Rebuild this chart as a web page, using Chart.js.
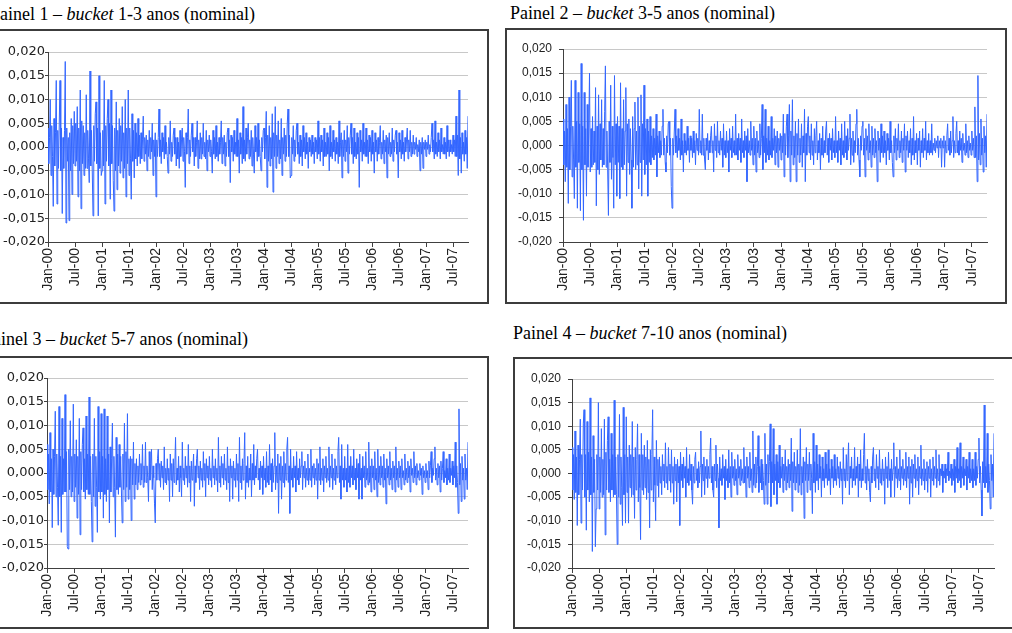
<!DOCTYPE html>
<html>
<head>
<meta charset="utf-8">
<script src="https://cdn.jsdelivr.net/npm/chart.js@4.4.1/dist/chart.umd.min.js"></script>
<style>
html, body { margin: 0; padding: 0; background: #fff; width: 1012px; height: 633px; overflow: hidden; position: relative; }
.box { position: absolute; border: 2px solid #3c3c3c; box-sizing: border-box; }
.tit { position: absolute; font: 18px/18px "Liberation Serif", "Times New Roman", serif; color: #000; white-space: nowrap; }
canvas { position: absolute; }
</style>
</head>
<body>
<div class="box" style="left:-4px;top:29px;width:493px;height:275px"></div>
<div class="box" style="left:505px;top:28px;width:502px;height:276px"></div>
<div class="box" style="left:-4px;top:356px;width:493px;height:273px"></div>
<div class="box" style="left:513px;top:357px;width:520px;height:272px"></div>

<div class="tit" style="left:-10px;top:5px">Painel 1 – <i>bucket</i> 1-3 anos (nominal)</div>
<div class="tit" style="left:510px;top:4px">Painel 2 – <i>bucket</i> 3-5 anos (nominal)</div>
<div class="tit" style="left:-17px;top:330px">Painel 3 – <i>bucket</i> 5-7 anos (nominal)</div>
<div class="tit" style="left:513px;top:324px">Painel 4 – <i>bucket</i> 7-10 anos (nominal)</div>

<script>
// rótulos do eixo x, um a cada semestre
var rotulos = ["Jan-00","Jul-00","Jan-01","Jul-01","Jan-02","Jul-02","Jan-03","Jul-03",
               "Jan-04","Jul-04","Jan-05","Jul-05","Jan-06","Jul-06","Jan-07","Jul-07"];
var pontosPorSemestre = 36; // 6 leituras por mês

// séries, em unidades de 10^-4 (uma linha = um semestre)
var painel1 = [
  40,-35,20,100,-60,45,-20,-125,60,-40,30,140,-120,35,-45,50,140,-50,40,-140,20,-45,35,180,-160,40,-30,20,-155,30,-50,60,-100,45,-35,75,
  -40,50,-30,85,-105,40,-50,120,-130,55,-35,45,-60,30,-45,110,-45,35,-25,-75,160,-40,35,-50,-145,45,-30,70,95,-35,40,-145,150,-45,30,-60,
  -50,35,-40,140,-120,45,-30,60,100,-40,50,-110,120,-35,45,-70,-135,40,-50,95,-90,35,-40,60,-55,45,-30,85,-65,30,-45,100,-105,40,-35,120,
  -60,40,-25,-110,70,-30,35,-65,50,-25,30,-40,60,-20,25,-35,30,-25,15,65,-30,20,-15,25,-50,15,-20,35,-25,20,-10,50,-60,15,-20,30,
  -105,15,-20,20,80,-20,15,-35,30,-10,20,-25,45,-15,10,-20,-55,20,-15,55,-30,10,-20,25,40,-15,20,-40,20,-25,10,-45,35,-20,15,40,
  -30,20,-10,-85,30,-15,20,80,-35,15,-20,25,50,-10,20,-40,20,-20,10,55,-45,15,-25,30,-25,20,-15,50,-20,10,-25,35,-50,15,-10,25,
  -20,15,-10,-55,35,-15,20,-25,45,-20,10,-30,20,-15,10,55,-35,20,-15,25,-40,10,-20,30,40,-20,15,-75,25,-10,20,-30,35,-15,10,-20,
  60,-20,15,-55,30,-15,20,-35,85,-25,15,-30,40,-15,20,50,-25,15,-20,35,-40,20,-15,-55,45,-10,20,-30,50,-20,15,-20,-50,20,-10,35,
  40,-25,20,75,-85,25,-30,45,-40,20,-25,70,-95,30,-20,85,-45,25,-20,55,-35,15,-25,60,-60,20,-15,40,-30,25,-20,50,80,-20,25,-65,
  -60,20,-15,45,-30,15,-20,35,50,-15,10,-35,25,-20,15,-40,45,-10,20,-25,30,-15,10,-45,20,-10,15,-20,25,-15,10,-35,20,-10,15,-25,
  55,-15,20,-30,25,-10,15,-40,40,-20,10,-20,30,-15,20,-50,45,-20,10,-25,35,-10,15,-30,20,-15,10,-35,55,-20,10,30,-65,15,-20,35,
  -30,15,-10,45,-55,20,-15,25,50,-15,20,-35,40,-20,10,-25,30,-15,20,-85,35,-10,15,-30,50,-15,10,-20,40,-20,15,-35,25,-10,20,-30,
  35,-15,10,-55,30,-10,15,-30,20,-15,10,45,-25,10,-15,35,-35,15,-10,25,-65,20,-15,30,-20,10,-15,40,-30,15,-10,25,35,-15,10,-65,
  30,-10,15,-25,35,-15,10,-30,20,-10,15,40,-25,15,-10,35,-20,10,-15,25,-15,10,-5,20,-20,5,-10,15,-50,10,-15,20,-45,10,-5,15,
  -20,10,-5,25,-15,5,-10,20,50,-10,15,-25,55,-15,10,-20,30,-10,15,-25,40,-10,5,-15,20,-15,10,-25,45,-10,15,-20,15,-10,5,-15,
  25,-10,15,-20,65,-20,25,-60,120,-25,20,-55,30,-15,10,-30,35,-15,20,-45,65
];
var painel2 = [
  55,-40,30,-75,85,-45,35,-120,100,-50,40,135,-65,40,-30,-110,135,-45,50,-130,110,-35,45,-135,170,-50,40,-155,110,-40,35,-105,85,-45,30,150,
  -55,35,-45,60,-40,30,-35,120,-125,40,-50,105,-60,45,-30,95,-45,35,-40,70,165,-45,30,-50,-145,50,-35,125,-70,40,-25,-130,145,-40,45,-105,
  60,-35,40,-110,130,-45,35,-50,95,-40,30,120,-105,45,-35,55,-60,35,-30,-130,60,-45,35,90,-50,30,-40,100,-90,40,-35,105,-105,45,-30,125,
  -60,35,-40,55,-105,30,-35,60,-40,20,-25,35,-30,15,-20,65,-65,20,-15,30,-25,10,-20,40,75,-20,15,-35,-55,20,-15,45,50,-20,15,-85,
  -130,15,-20,30,75,-15,20,-25,35,-10,15,-30,55,-20,10,-55,25,-15,10,-20,40,-10,15,-35,20,-10,15,-25,30,-15,10,-40,25,-10,15,-20,
  75,-15,10,-20,65,-20,15,-30,-50,15,-10,25,-30,10,-15,20,40,-15,10,-55,45,-10,20,-25,50,-15,10,-20,30,-10,15,-45,45,-20,10,-25,
  30,-15,10,-55,35,-10,15,-25,40,-15,10,-20,65,-20,15,-30,25,-10,15,-35,55,-15,10,-25,30,-10,20,-75,35,-15,10,-20,50,-10,15,-40,
  40,-20,15,-55,30,-15,10,-25,45,-20,15,85,-50,20,-15,75,-35,15,-20,40,-30,10,-20,60,-25,15,-10,35,-40,20,-15,30,-45,15,-10,25,
  -30,20,-15,65,-65,25,-20,40,65,-25,20,85,-75,30,-20,95,-40,20,-25,50,-75,25,-20,55,-35,15,-20,45,-45,20,-15,75,-75,25,-20,40,
  60,-15,20,-30,45,-20,10,-40,35,-15,20,50,-30,10,-15,25,-50,15,-20,40,-25,10,-15,30,50,-20,15,-35,25,-10,15,-30,35,-15,10,-25,
  60,-15,10,-35,30,-10,15,-40,45,-20,10,-25,50,-15,20,-30,35,-10,15,65,-40,15,-20,30,-35,10,-15,45,75,-20,15,-30,-65,20,-10,40,
  50,-20,15,-65,35,-10,20,-30,45,-15,10,-45,40,-20,15,-25,35,-15,10,-75,30,-10,15,-35,45,-15,20,-25,30,-15,10,-40,25,-10,15,-30,
  50,-15,10,-35,-65,20,-15,35,-30,15,-10,45,-25,10,-15,30,-35,15,-10,45,-55,20,-10,30,-25,10,-15,35,-40,15,-20,60,-30,10,-15,25,
  -40,15,-10,30,-45,10,-15,35,-25,15,-10,50,-30,10,-15,25,-20,10,-15,45,-20,5,-10,15,-15,10,-5,20,-25,10,-5,15,-45,10,-5,20,
  -45,10,-15,20,45,-10,15,-20,30,-15,10,60,-25,10,-15,25,50,-15,10,-20,30,-10,15,-35,25,-10,5,-20,45,-15,10,-25,20,-10,5,-20,
  30,-10,15,-25,80,-25,20,-75,145,-30,25,-40,55,-20,15,-55,40,-15,20,-45,65
];
var painel3 = [
  60,-35,40,-65,85,-40,30,-115,50,-45,35,130,-50,40,-30,-110,140,-50,35,-125,115,-45,30,-40,165,-40,45,-155,-160,50,-35,110,-50,35,-40,145,
  -60,40,-30,70,-95,35,-45,115,-130,45,-35,60,95,-40,30,-55,120,-35,40,-45,160,-45,35,-60,-145,40,-50,115,-70,35,-30,-125,140,-40,45,-55,
  125,-40,35,-95,135,-45,30,-60,120,-35,40,-105,55,-40,30,105,-50,35,-30,-135,75,-35,40,-45,60,-30,35,-40,-105,40,-35,105,-60,45,-30,125,
  -55,30,-35,35,-100,30,-25,65,-55,20,-25,30,-35,15,-20,40,-25,20,-15,60,-30,15,-20,65,-20,15,-10,-60,45,-15,20,50,-35,15,-10,-65,
  -105,20,-15,30,50,-15,20,-30,25,-10,15,-35,55,-20,10,-25,30,-15,10,-60,40,-15,20,-50,30,-20,15,75,-25,10,-15,35,-40,15,-10,-50,
  65,-15,10,-25,35,-10,15,-30,60,-20,15,-60,25,-15,10,40,-70,15,-20,30,50,-10,15,-35,25,-15,10,-30,45,-15,20,-50,30,-10,15,-25,
  35,-15,10,-30,50,-10,15,-25,30,-15,10,-40,75,-20,15,-30,35,-10,20,-25,40,-15,10,-35,55,-20,15,-60,30,-10,15,-55,25,-15,10,-30,
  40,-15,20,-60,75,-20,15,-35,30,-15,20,85,-55,15,-20,35,-30,10,-15,40,-50,20,-15,60,-25,15,-10,30,50,-15,10,-35,25,-10,15,-45,
  35,-15,10,-30,45,-20,15,-25,60,-15,20,-40,30,-20,15,85,-35,15,-20,40,-85,20,-15,35,-55,15,-20,45,-30,20,-15,50,75,-20,15,-85,
  50,-15,10,-30,35,-10,15,-40,45,-15,10,-25,30,-10,15,45,-35,15,-10,25,-30,10,-15,40,-25,10,-15,50,-30,15,-10,20,-25,10,-15,30,
  -55,20,-15,55,-25,10,-15,30,-40,15,-10,35,-20,10,-15,55,-30,15,-10,40,-35,10,-15,30,-25,15,-10,45,75,-20,15,-55,60,-15,10,-30,
  35,-15,10,-40,60,-20,15,-30,35,-10,15,-25,50,-15,10,-35,30,-10,20,-55,40,-15,10,-55,35,-10,15,-30,45,-15,10,-25,65,-20,15,-40,
  30,-10,15,-35,45,-15,10,-50,50,-20,15,-25,35,-10,15,-30,40,-15,10,-65,30,-10,15,-25,45,-15,10,-35,25,-10,15,-40,55,-15,10,-30,
  25,-10,15,-35,30,-10,5,-25,40,-15,10,-20,25,-10,15,-40,30,-5,10,-20,45,-10,15,-25,20,-10,5,-15,20,-5,10,-45,15,-10,5,-20,
  20,-10,5,-35,25,-10,15,45,-20,10,-5,30,55,-15,10,-25,20,-10,15,-40,25,-15,10,45,-20,5,-10,30,-25,10,-15,40,-20,10,-5,25,
  -25,15,-10,65,-30,15,-20,-85,135,-25,20,-60,35,-15,10,-55,40,-15,10,-35,65
];
var painel4 = [
  55,-35,40,-55,90,-40,35,-110,60,-45,30,115,-105,40,-35,105,135,-50,40,-120,110,-35,45,-60,160,-45,35,-165,80,-40,30,-155,-75,40,-35,150,
  -75,35,-40,95,-50,30,-45,115,-130,45,-35,70,120,-40,30,-60,85,-35,40,-50,155,-45,35,-45,-150,40,-50,125,-65,35,-30,-110,140,-45,40,-105,
  120,-40,35,-105,60,-30,40,-50,110,-45,35,-95,55,-35,30,105,-60,40,-30,-140,85,-35,40,-45,60,-30,35,-55,70,-40,30,-115,50,-35,40,135,
  -60,35,-25,-100,70,-25,30,-50,35,-20,15,-45,40,-15,20,-30,65,-20,15,-35,55,-15,20,-40,50,-20,15,-65,35,-15,20,-60,30,-20,15,-110,
  45,-15,20,-30,35,-10,15,-50,55,-20,10,-25,40,-15,20,-35,-65,15,-20,30,45,-15,10,-30,25,-20,15,90,-50,20,-15,35,-45,15,-10,30,
  -30,15,-10,40,75,-20,15,-35,-50,20,-15,60,-30,20,-10,-115,35,-15,10,-25,40,-10,15,-55,30,-15,10,-30,50,-20,15,-50,45,-10,15,-25,
  30,-15,10,-45,40,-10,15,-25,30,-15,10,-20,55,-20,15,-50,35,-10,15,-30,45,-15,10,-40,90,-25,20,-30,35,-20,15,80,-40,15,-20,30,
  -35,20,-15,-65,85,-25,20,-65,40,-20,25,105,-70,25,-20,95,-45,20,-15,40,-65,25,-20,60,-30,15,-10,35,-40,20,-15,50,-35,15,-20,30,
  -30,20,-15,75,-80,25,-20,45,-35,15,-20,50,-40,20,-25,95,-45,15,-20,35,-95,25,-15,55,-40,20,-15,45,-35,20,-10,-85,85,-20,25,-40,
  60,-15,20,-35,40,-10,15,-50,35,-15,10,-30,45,-10,20,-25,50,-15,10,-45,30,-10,15,-30,40,-15,10,-25,35,-10,15,-30,25,-15,10,-65,
  55,-15,10,-30,40,-15,20,65,-45,15,-10,35,-30,10,-15,55,-25,15,-10,35,-50,20,-15,50,-30,10,-15,40,85,-20,15,-35,30,-15,10,-40,
  -60,15,-20,35,55,-15,10,-30,40,-10,15,-35,50,-20,10,-25,30,-15,10,-65,35,-10,15,-30,45,-15,10,-50,30,-15,10,65,-50,15,-10,35,
  -30,10,-15,50,-35,15,-10,30,-25,10,-15,45,-30,15,-10,35,-65,15,-20,30,-50,20,-10,40,-30,10,-15,35,-45,15,-10,60,-25,10,-15,30,
  -35,10,-15,25,-40,15,-10,30,-50,10,-15,35,-25,15,-10,50,-30,10,-15,40,-25,10,-5,20,-40,5,-10,20,-20,10,-5,45,-15,5,-10,20,
  -25,10,-15,30,-40,15,-10,55,-20,10,-15,65,-30,15,-10,35,-25,10,-5,30,-35,15,-10,45,-20,10,-15,30,-30,10,-15,45,-25,15,-10,30,
  75,-20,15,-35,-90,25,-20,145,-30,15,-20,85,-40,20,-15,-75,40,-15,20,-50,85
];

var posTicks = rotulos.map(function (r, k) { return k * pontosPorSemestre; });

// área de plotagem de cada painel, em pixels da página
var paineis = [
  { serie: painel1, l: 48,  t: 52,  r: 468, b: 242, yFont: "DejaVu Sans", ySize: 13, yTick: 3, yPad: 0 },
  { serie: painel2, l: 563, t: 49,  r: 987, b: 242, yFont: "Liberation Sans", ySize: 12, yTick: 4, yPad: 7 },
  { serie: painel3, l: 47,  t: 378, r: 468, b: 568, yFont: "DejaVu Sans", ySize: 13, yTick: 3, yPad: 0 },
  { serie: painel4, l: 572, t: 379, r: 994, b: 568, yFont: "Liberation Sans", ySize: 12, yTick: 4, yPad: 7 }
];

function fmt(v) {
  if (Math.abs(v) < 1e-9) v = 0;
  return v.toFixed(3).replace(".", ",");
}

paineis.forEach(function (p) {
  var cv = document.createElement("canvas");
  cv.width = p.r - p.l + 72;
  cv.height = p.b - p.t + 82;
  cv.style.left = (p.l - 60) + "px";
  cv.style.top = (p.t - 12) + "px";
  document.body.appendChild(cv);

  new Chart(cv.getContext("2d"), {
    type: "line",
    data: {
      labels: p.serie.map(function (v, i) { return i; }),
      datasets: [{
        data: p.serie.map(function (v) { return v / 10000; }),
        borderColor: "#3366ff",
        borderWidth: 1,
        pointRadius: 0,
        tension: 0,
        fill: false
      }]
    },
    options: {
      responsive: false,
      animation: false,
      layout: { padding: { left: 0, top: 12, right: 12, bottom: 0 } },
      plugins: { legend: { display: false }, tooltip: { enabled: false } },
      scales: {
        x: {
          type: "linear",
          min: 0,
          max: p.serie.length - 1,
          afterBuildTicks: function (s) { s.ticks = posTicks.map(function (v) { return { value: v }; }); },
          afterFit: function (s) { s.height = 70; s.paddingLeft = 0; s.paddingRight = 0; },
          grid: { drawOnChartArea: false, drawTicks: true, tickLength: 5, tickColor: "#404040" },
          border: { color: "#404040", width: 1 },
          ticks: {
            autoSkip: false, minRotation: 90, maxRotation: 90, padding: 1,
            color: "#222",
            font: { family: "Liberation Sans", size: 14 },
            callback: function (v) { return rotulos[posTicks.indexOf(v)]; }
          }
        },
        y: {
          min: -0.02,
          max: 0.02,
          afterFit: function (s) { s.width = 60; s.paddingTop = 0; s.paddingBottom = 0; },
          grid: { color: "#c8c8c8", tickColor: "#404040", tickLength: p.yTick },
          border: { color: "#404040", width: 1 },
          ticks: {
            stepSize: 0.005, padding: p.yPad,
            color: "#222",
            font: { family: p.yFont, size: p.ySize },
            callback: fmt
          }
        }
      }
    }
  });
});
</script>
</body>
</html>
